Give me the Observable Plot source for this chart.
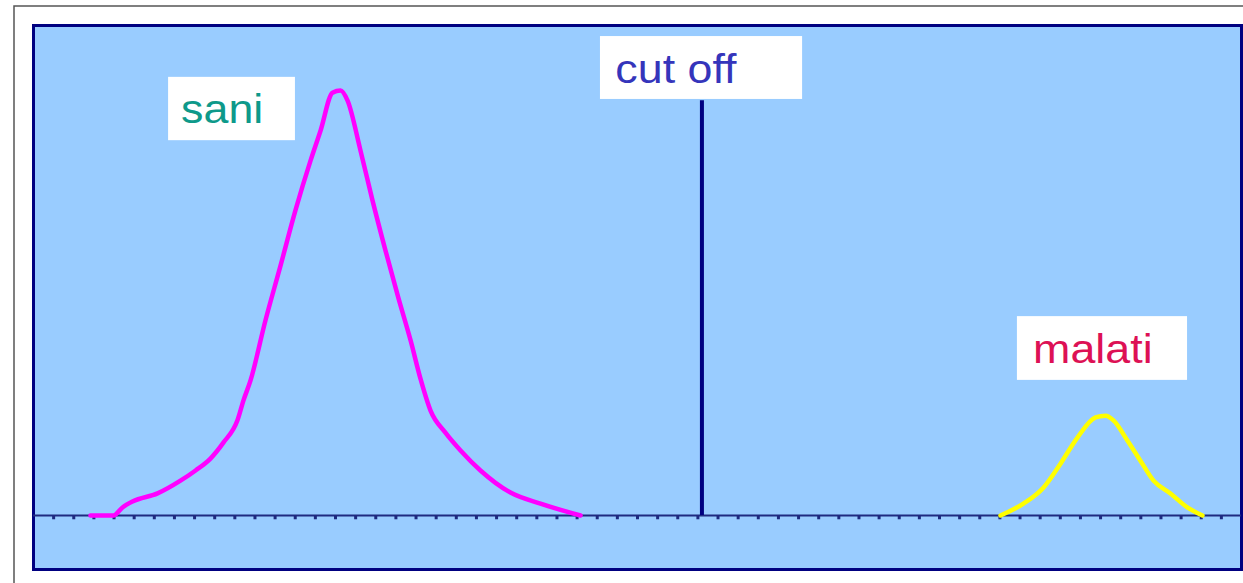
<!DOCTYPE html>
<html>
<head>
<meta charset="utf-8">
<script src="https://cdn.jsdelivr.net/npm/d3@7"></script>
<script src="https://cdn.jsdelivr.net/npm/@observablehq/plot@0.6"></script>
<style>
  html, body { margin: 0; padding: 0; background: #ffffff; }
  #chart { width: 1243px; height: 583px; overflow: hidden; }
</style>
</head>
<body>
<div id="chart"></div>
<script>
// "sani" (healthy) distribution
const saniX = [2.83, 3.97, 4.42, 4.92, 6.16, 7.30, 8.05, 8.79, 9.44, 10.13, 10.43, 10.78, 11.52, 12.27, 13.01, 13.76, 14.26, 14.85, 15.25, 15.60, 16.24, 16.84, 17.48, 18.13, 18.73, 19.22, 19.72, 20.46, 21.21, 22.20, 23.69, 25.18, 27.17];
const saniY = [0, 0, 1.9, 3.3, 5.2, 8.2, 10.6, 13.4, 17.2, 22.4, 27.1, 31.8, 45.9, 58.8, 71.8, 83.5, 90.6, 99.5, 100, 97.6, 85.9, 74.1, 62.4, 51.1, 41.2, 32.2, 24.7, 19.5, 15.3, 10.6, 5.4, 2.8, 0];

// "malati" (sick) distribution
const malatiX = [48.03, 49.17, 50.17, 51.01, 51.86, 52.75, 53.25, 53.64, 54.34, 54.98, 55.63, 56.47, 57.31, 58.06];
const malatiY = [0, 2.8, 6.6, 12.2, 18.4, 23.1, 23.5, 22.4, 17.6, 12.9, 8.2, 5.2, 1.9, 0];

// cut off
const cutoffX = 33.2;
const cutoffTop = 97.6;

// baseline tick marks
const tickValues = d3.range(1, 60);

// labels
const labelText = ["sani", "cut off", "malati"];
const labelX = [7.33, 28.9, 49.65];
const labelY = [95.3, 104.9, 38.8];
const labelColor = ["#0E998A", "#3535BB", "#DD1155"];
const boxX1 = [6.71, 28.16, 48.87];
const boxX2 = [13.01, 38.20, 57.32];
const boxY1 = [88.2, 97.9, 31.8];
const boxY2 = [103.1, 112.7, 46.8];

const sani = saniX.map((x, i) => ({x, y: saniY[i]}));
const malati = malatiX.map((x, i) => ({x, y: malatiY[i]}));
const labels = labelText.map((t, i) => ({
  t, x: labelX[i], y: labelY[i], c: labelColor[i],
  x1: boxX1[i], x2: boxX2[i], y1: boxY1[i], y2: boxY2[i]
}));

const chart = Plot.plot({
  width: 1243,
  height: 583,
  marginLeft: 33,
  marginRight: 2,
  marginTop: 25,
  marginBottom: 14,
  style: {fontFamily: "'Liberation Sans', Arial, sans-serif", background: "#ffffff"},
  x: {domain: [0, 60], axis: null},
  y: {domain: [-12.7, 115.3], axis: null},
  marks: [
    Plot.frame({fill: "#99CCFF", stroke: "#000080", strokeWidth: 3}),
    Plot.ruleY([0], {stroke: "#1F2A80", strokeWidth: 2}),
    Plot.ruleX(tickValues, {y1: 0, y2: -1, stroke: "#1F2A80", strokeWidth: 3}),
    Plot.ruleX([cutoffX], {y1: 0, y2: cutoffTop, stroke: "#000080", strokeWidth: 4}),
    Plot.line(sani, {x: "x", y: "y", stroke: "#FF00FF", strokeWidth: 4.5, curve: "monotone-x", strokeLinejoin: "round"}),
    Plot.line(malati, {x: "x", y: "y", stroke: "#FFFF00", strokeWidth: 4.5, curve: "monotone-x", strokeLinejoin: "round"}),
    Plot.rect(labels, {x1: "x1", x2: "x2", y1: "y1", y2: "y2", fill: "#FFFFFF"}),
    Plot.text(labels, {x: "x", y: "y", text: "t", fill: "c", textAnchor: "start", lineAnchor: "middle", fontSize: 40})
  ]
});

// the original labels are drawn slightly wider than the font's natural width
d3.select(chart).selectAll("text").each(function() {
  const el = this;
  const tr = el.getAttribute("transform");
  if (tr && tr.includes("translate")) {
    el.setAttribute("transform", tr + " scale(1.12,1)");
  } else {
    const x = +(el.getAttribute("x") || 0);
    el.setAttribute("transform", (tr || "") + ` translate(${x},0) scale(1.12,1) translate(${-x},0)`);
  }
});

d3.select(chart).append("rect")
  .attr("x", 14).attr("y", 6)
  .attr("width", 1250).attr("height", 600)
  .attr("fill", "none")
  .attr("stroke", "#555555")
  .attr("stroke-width", 1.5);

document.getElementById("chart").appendChild(chart);
</script>
</body>
</html>
